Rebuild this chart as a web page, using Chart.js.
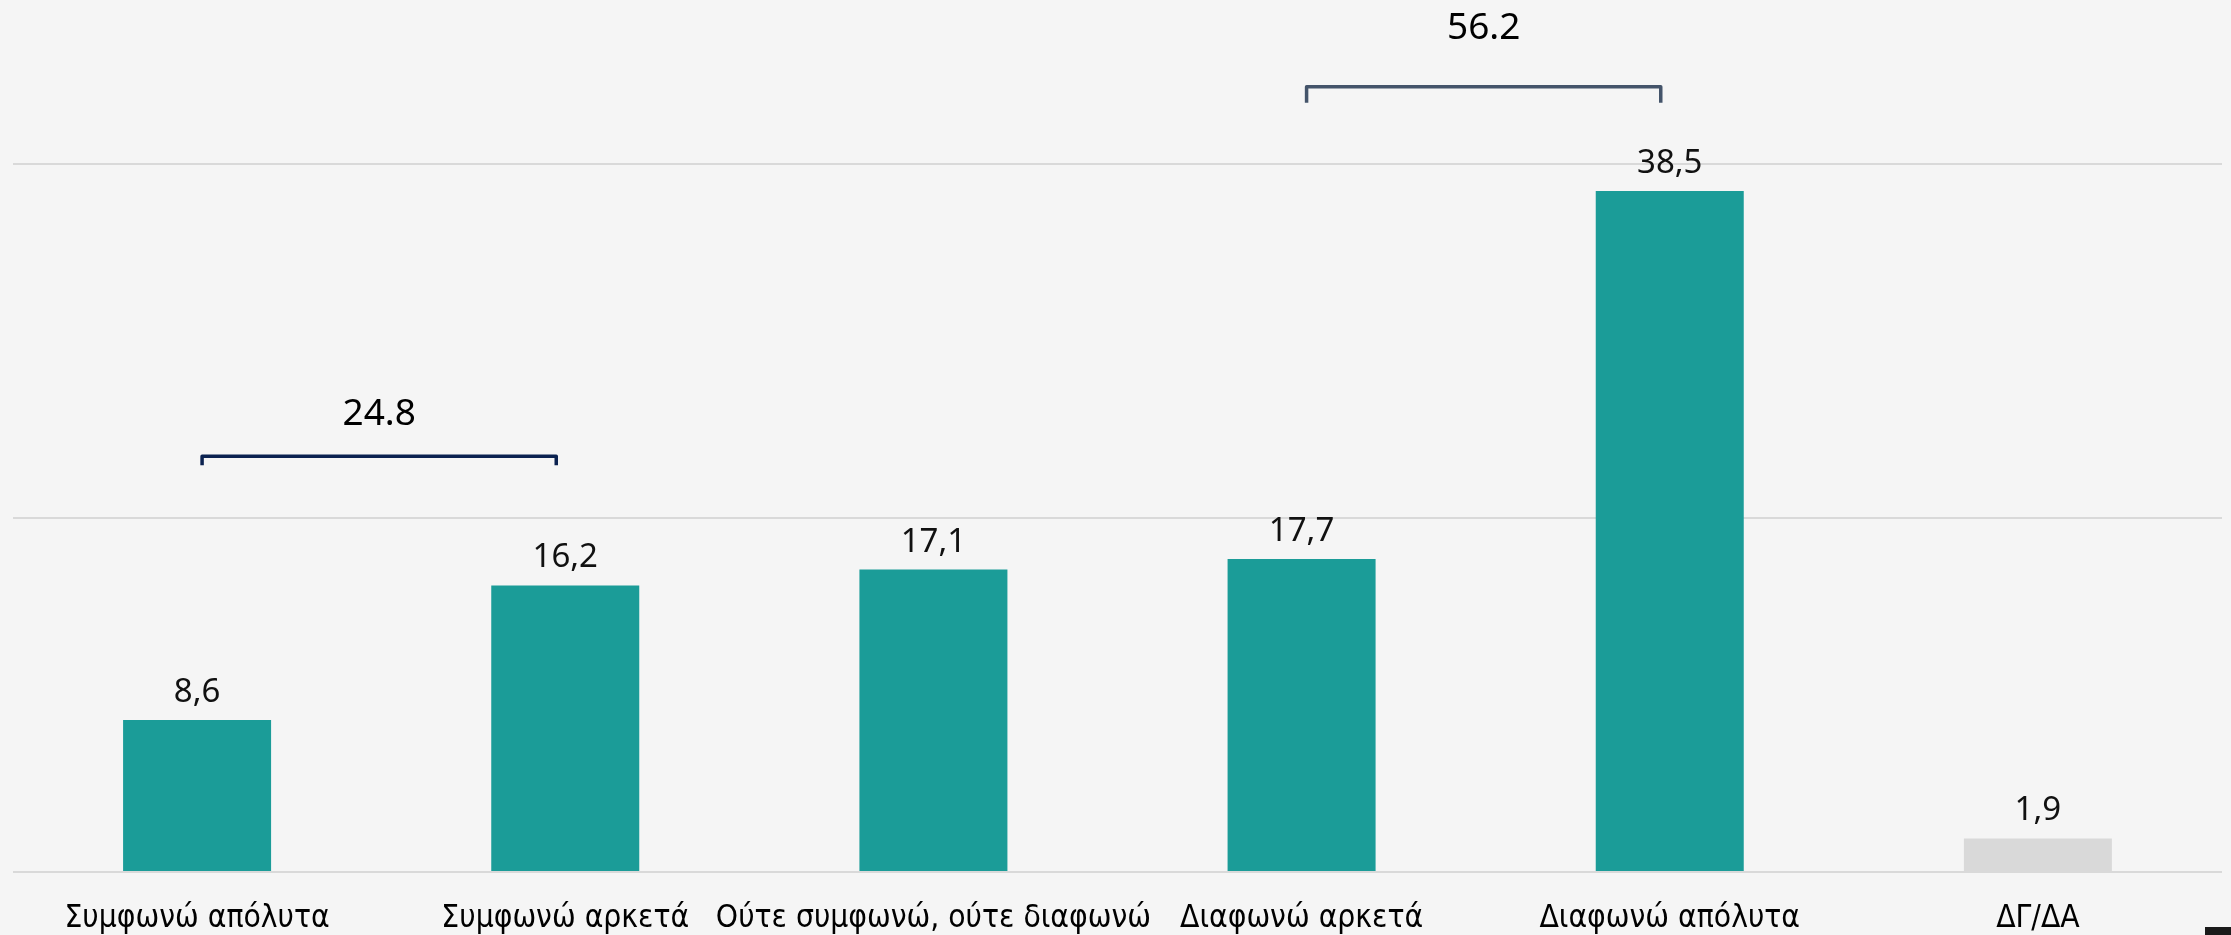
<!DOCTYPE html>
<html>
<head>
<meta charset="utf-8">
<script src="https://cdn.jsdelivr.net/npm/chart.js@4"></script>
<style>
  html, body { margin: 0; padding: 0; background: #f5f5f5; }
  #wrap { width: 2231px; height: 935px; }
</style>
</head>
<body>
<div id="wrap"><canvas id="c" width="2231" height="935"></canvas></div>
<script>
// ---------- data ----------
const categories = ['Συμφωνώ απόλυτα', 'Συμφωνώ αρκετά', 'Ούτε συμφωνώ, ούτε διαφωνώ',
                    'Διαφωνώ αρκετά', 'Διαφωνώ απόλυτα', 'ΔΓ/ΔΑ'];
const values     = [8.6, 16.2, 17.1, 17.7, 38.5, 1.9];
const yTicks     = [0, 20, 40];

// grouped totals shown over brackets
const groupFrom   = [0, 3];
const groupTo     = [1, 4];
const groupTotals = [24.8, 56.2];

// ---------- bracket layout (data units on y) ----------
const brackets = [
  { line: 23.5, label: 25.3, drop: 9,  color: '#0b2250' },
  { line: 44.4, label: 47.1, drop: 16, color: '#44546a' }
];

const TEAL = '#1b9c98', GREY = '#d9d9d9';
const fmt = v => v.toFixed(1).replace('.', ',');

const extras = {
  id: 'extras',
  beforeDraw(chart) {
    const { ctx, width, height } = chart;
    ctx.save();
    ctx.fillStyle = '#f5f5f5';
    ctx.fillRect(0, 0, width, height);
    ctx.restore();
  },
  afterDatasetsDraw(chart) {
    const { ctx, scales: { x, y } } = chart;
    const bars = chart.getDatasetMeta(0).data;
    ctx.save();
    // value labels over bars
    ctx.fillStyle = '#111';
    ctx.font = '33px "Noto Sans"';
    ctx.textAlign = 'center';
    ctx.textBaseline = 'alphabetic';
    bars.forEach((b, i) => ctx.fillText(fmt(values[i]), b.x, b.y - 18));

    // brackets with group totals
    groupTotals.forEach((tot, i) => {
      const br = brackets[i];
      const x1 = x.getPixelForValue(groupFrom[i]) + 5;
      const x2 = x.getPixelForValue(groupTo[i]) - 9;
      const yl = y.getPixelForValue(br.line);
      ctx.strokeStyle = br.color;
      ctx.lineWidth = 3.5;
      ctx.lineJoin = 'round';
      ctx.beginPath();
      ctx.moveTo(x1, yl + br.drop);
      ctx.lineTo(x1, yl);
      ctx.lineTo(x2, yl);
      ctx.lineTo(x2, yl + br.drop);
      ctx.stroke();
      ctx.fillStyle = '#000';
      ctx.font = '37px "Noto Sans"';
      ctx.fillText(tot.toFixed(1), (x1 + x2) / 2, y.getPixelForValue(br.label));
    });

    // small dark tab at the bottom-right corner
    ctx.fillStyle = '#1a1a1a';
    ctx.fillRect(chart.width - 26, chart.height - 8, 26, 8);
    ctx.restore();
  }
};

new Chart(document.getElementById('c'), {
  type: 'bar',
  data: {
    labels: categories,
    datasets: [{
      data: values,
      backgroundColor: values.map((v, i) => i === values.length - 1 ? GREY : TEAL),
      categoryPercentage: 1,
      barPercentage: 0.402
    }]
  },
  options: {
    responsive: false,
    animation: false,
    devicePixelRatio: 1,
    layout: { padding: { left: 13, right: 9, top: 0, bottom: 0 } },
    plugins: { legend: { display: false }, tooltip: { enabled: false } },
    scales: {
      x: {
        grid: { display: false },
        border: { display: false },
        ticks: {
          color: '#000',
          font: { family: '"DejaVu Sans Condensed", "DejaVu Sans"', size: 31.5 },
          padding: 20,
          maxRotation: 0,
          autoSkip: false
        },
        afterFit(s) { s.height = 63; }
      },
      y: {
        min: 0,
        max: 49.3,
        afterBuildTicks(s) { s.ticks = yTicks.map(v => ({ value: v })); },
        grid: { color: '#d9d9d9', lineWidth: 2, drawTicks: false },
        border: { display: false },
        ticks: { display: false },
        afterFit(s) { s.width = 0; }
      }
    }
  },
  plugins: [extras]
});
</script>
</body>
</html>
